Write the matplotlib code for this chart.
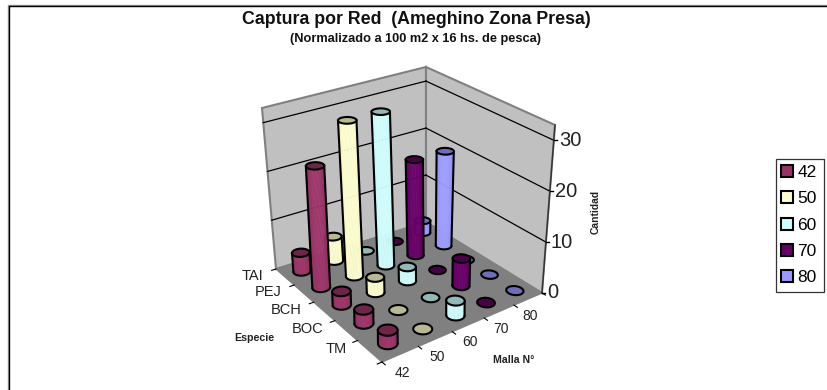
#!/usr/bin/env python3
"""3D-style cylinder chart of catch per net, drawn with a small perspective helper."""
import numpy as np
import matplotlib
matplotlib.use("Agg")
import matplotlib.pyplot as plt
from matplotlib.patches import Patch, Rectangle

plt.rcParams["font.family"] = ["Liberation Sans", "DejaVu Sans"]

species = ["TM", "BOC", "BCH", "PEJ", "TAI"]
mesh = ["42", "50", "60", "70", "80"]
catch_42 = [2.4, 2.6, 2.6, 24.2, 3.8]
catch_50 = [0.0, 0.0, 3.0, 31.5, 5.0]
catch_60 = [2.8, 0.0, 2.8, 31.5, 0.0]
catch_70 = [0.0, 5.4, 0.0, 19.8, 0.0]
catch_80 = [0.0, 0.0, 0.0, 19.7, 2.5]
series = [catch_42, catch_50, catch_60, catch_70, catch_80]
colors = ["#993366", "#FFFFCC", "#CCFFFF", "#660066", "#9999FF"]
z_ticks = [0, 10, 20, 30]
Z_TOP = 33.0

# box corners on the canvas, order: front, right, back, left
FLOOR = [(382, 362), (542, 293), (426, 222), (276, 269)]
TOP = [(381, 172), (555, 125), (426, 67), (262, 108)]


def homography(pts):
    src = [(0, 0), (1, 0), (1, 1), (0, 1)]
    a, b = [], []
    for (x, y), (u, v) in zip(src, pts):
        a.append([x, y, 1, 0, 0, 0, -u * x, -u * y])
        a.append([0, 0, 0, x, y, 1, -v * x, -v * y])
        b += [u, v]
    return np.append(np.linalg.solve(np.array(a, float), np.array(b, float)), 1).reshape(3, 3)


H_FLOOR = homography(FLOOR)
H_TOP = homography(TOP)


def proj(x, y, z=0.0):
    """x along mesh axis, y along species axis (0-1), z in data units."""
    x, y = np.asarray(x, float), np.asarray(y, float)
    p = np.stack([x, y, np.ones_like(x)])
    a = H_FLOOR @ p
    b = H_TOP @ p
    t = z / Z_TOP
    return (a[:2] / a[2]) * (1 - t) + (b[:2] / b[2]) * t


def line3(ax, p0, p1, **kw):
    xy = proj([p0[0], p1[0]], [p0[1], p1[1]], np.array([p0[2], p1[2]]))
    ax.plot(xy[0], xy[1], **kw)


def poly3(ax, pts, **kw):
    pts = np.array(pts, float)
    xy = proj(pts[:, 0], pts[:, 1], pts[:, 2])
    ax.fill(xy[0], xy[1], **kw)


def shade(color, f):
    rgb = np.array(matplotlib.colors.to_rgb(color))
    return tuple(np.clip(rgb * f, 0, 1))


def cylinder(ax, i, j, value, color):
    cx, cy = (i + 0.5) / 5, (j + 0.5) / 5
    r = 0.045
    th = np.linspace(0, 2 * np.pi, 73)[:-1]
    bx, by = cx + r * np.cos(th), cy + r * np.sin(th)
    base = proj(bx, by, 0.0)
    top = proj(bx, by, value)
    if value > 0:
        left, right = np.argmin(base[0]), np.argmax(base[0])
        # walk the arc of the base that faces the viewer
        arc = np.arange(left, left + 73) % 72
        arc = arc[:((right - left) % 72) + 1]
        if base[1][arc].mean() < base[1].mean():
            arc = np.arange(right, right + 73) % 72
            arc = arc[:((left - right) % 72) + 1][::-1]
        n = len(arc)
        for k in range(n - 1):
            a, b = arc[k], arc[k + 1]
            f = 0.88 + 0.16 * np.sin(np.pi * k / (n - 1))
            ax.fill([base[0][a], base[0][b], top[0][b], top[0][a]],
                    [base[1][a], base[1][b], top[1][b], top[1][a]],
                    color=shade(color, f), lw=0.3, zorder=3)
        ax.plot(base[0][arc], base[1][arc], color="k", lw=1.5, zorder=3,
                solid_capstyle="round")
        ax.plot([base[0][left], top[0][left]], [base[1][left], top[1][left]],
                color="k", lw=1.5, zorder=3)
        ax.plot([base[0][right], top[0][right]], [base[1][right], top[1][right]],
                color="k", lw=1.5, zorder=3)
    ax.fill(top[0], top[1], facecolor=shade(color, 0.72), edgecolor="k", lw=1.5, zorder=3)


fig = plt.figure(figsize=(8.27, 3.9), dpi=100)
ax = fig.add_axes([0, 0, 1, 1])
ax.set_xlim(0, 827)
ax.set_ylim(390, 0)
ax.axis("off")

# chart frame: only the left and top edges fall inside the picture
ax.plot([8, 8, 827], [390, 4.5, 4.5], color="#999999", lw=1.0)
ax.plot([9, 9, 827], [390, 5.5, 5.5], color="k", lw=1.0)

ax.text(416, 20, "Captura por Red  (Ameghino Zona Presa)", ha="center", va="center",
        fontsize=12.8, fontweight="bold", color="#111111")
ax.text(416, 39, "(Normalizado a 100 m2 x 16 hs. de pesca)", ha="center", va="center",
        fontsize=9.2, fontweight="bold", color="#111111")

# walls and floor
poly3(ax, [(0, 1, 0), (1, 1, 0), (1, 1, Z_TOP), (0, 1, Z_TOP)],
      facecolor="#C0C0C0", edgecolor="#808080", lw=1.5)
poly3(ax, [(1, 0, 0), (1, 1, 0), (1, 1, Z_TOP), (1, 0, Z_TOP)],
      facecolor="#C0C0C0", edgecolor="#808080", lw=1.5)
poly3(ax, [(0, 0, 0), (1, 0, 0), (1, 1, 0), (0, 1, 0)],
      facecolor="#808080", edgecolor="#808080", lw=1)
for z in z_ticks[1:]:
    line3(ax, (0, 1, z), (1, 1, z), color="k", lw=0.9)
    line3(ax, (1, 1, z), (1, 0, z), color="k", lw=0.9)

# z axis on the right edge of the box
line3(ax, (1, 0, 0), (1, 0, Z_TOP), color="#333333", lw=1.0)
for z in z_ticks:
    p = proj(1.0, 0.0, float(z))
    ax.plot([p[0], p[0] + 3], [p[1], p[1]], color="k", lw=1.0)
    ax.text(p[0] + 5, p[1], str(z), ha="left", va="center", fontsize=14.5, color="#222222")

# floor axis ticks and labels
for k in range(6):
    p = proj(k / 5, 0.0)
    q = proj(k / 5, -0.025)
    ax.plot([p[0], q[0]], [p[1], q[1]], color="k", lw=0.8)
    p = proj(0.0, k / 5)
    q = proj(-0.025, k / 5)
    ax.plot([p[0], q[0]], [p[1], q[1]], color="k", lw=0.8)
for k, name in enumerate(mesh):
    p = proj((k + 0.5) / 5, -0.11)
    ax.text(p[0] - 13, p[1] + 7, name, ha="center", va="center", fontsize=10, color="#222222")
for k, name in enumerate(species):
    p = proj(-0.09, (k + 0.5) / 5)
    ax.text(p[0] - 6, p[1] - 9 + 0.75 * k, name, ha="right", va="center", fontsize=10.5,
            color="#222222")

ax.text(254, 338, "Especie", ha="center", va="center", fontsize=7.7, fontweight="bold",
        color="#222222")
ax.text(514, 360, "Malla N°", ha="center", va="center", fontsize=7.6, fontweight="bold",
        color="#222222")
ax.text(596, 212, "Cantidad", ha="center", va="center", fontsize=7.4, fontweight="bold",
        rotation=90, color="#222222")

# back to front so nearer cylinders cover the far ones
for j in range(4, -1, -1):
    for i in range(4, -1, -1):
        cylinder(ax, i, j, series[i][j], colors[i])

# legend box is narrower on the left than the default padding allows, so draw it apart
ax.add_patch(Rectangle((776, 159), 48, 133, facecolor="white", edgecolor="#333333", lw=0.9,
                       zorder=4))
handles = [Patch(facecolor=c, edgecolor="k", lw=1.5) for c in colors]
leg = ax.legend(handles, mesh, loc="upper left", bbox_to_anchor=(781, 165),
                bbox_transform=ax.transData, frameon=False, fontsize=12.5, handlelength=0.7,
                handleheight=0.7, handletextpad=0.25, labelspacing=0.64,
                borderpad=0, borderaxespad=0)
leg.set_zorder(5)

fig.savefig("out.png", dpi=100)
